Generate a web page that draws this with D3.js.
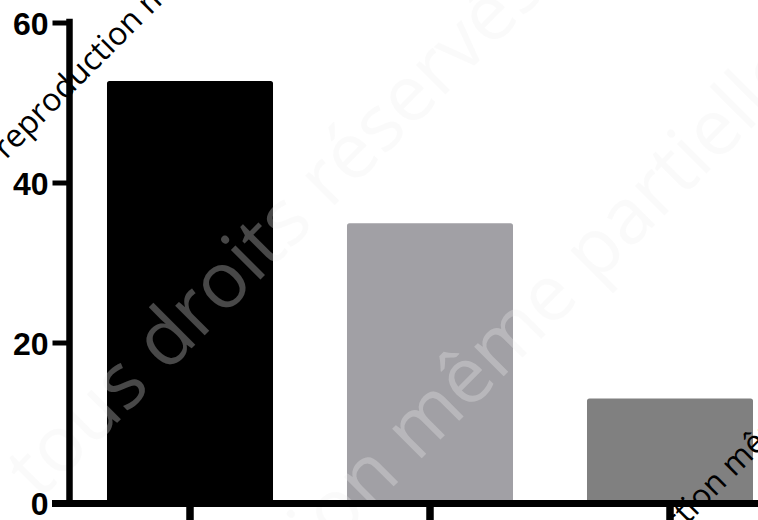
<!DOCTYPE html>
<html>
<head>
<meta charset="utf-8">
<script src="https://cdn.jsdelivr.net/npm/d3@7"></script>
<style>
  html, body { margin: 0; padding: 0; background: #ffffff; }
  svg { display: block; }
</style>
</head>
<body>
<svg id="chart" width="758" height="520"></svg>
<script>
// ---- data ----
const categories = ["Groupe 1", "Groupe 2", "Groupe 3"];
const values = [52.7, 34.9, 13.0];
const barColors = ["#000000", "#a1a0a5", "#808080"];
const yTickValues = [0, 20, 40, 60];
const watermarkLight = ["tous droits réservés", "reproduction même partielle interdite"];
const watermarkDark = ["reproduction même partielle interdite", "reproduction même partielle interdite"];

const svg = d3.select("#chart");

const y = d3.scaleLinear().domain([0, 60]).range([502.5, 22.5]);
const x = d3.scaleBand().domain(categories).range([70, 790])
  .paddingInner(0.3083).paddingOuter(0.3083 / 2);

// bars
svg.append("g").selectAll("rect").data(values).join("rect")
  .attr("x", (d, i) => x(categories[i]))
  .attr("width", x.bandwidth())
  .attr("y", d => y(d))
  .attr("height", d => y(0) - y(d))
  .attr("rx", 2.5)
  .attr("fill", (d, i) => barColors[i]);

// light watermark
const wl = svg.append("g").attr("font-family", "'Open Sans', sans-serif")
  .attr("font-size", 78).attr("fill", "#ededed").attr("fill-opacity", 0.3);
const wlPos = [[39, 501], [65, 815]];
wl.selectAll("text").data(watermarkLight).join("text")
  .attr("transform", (d, i) => `translate(${wlPos[i][0]},${wlPos[i][1]}) rotate(-45)`)
  .text(d => d);

// y axis
const yAxis = d3.axisLeft(y).tickValues(yTickValues).tickSize(17).tickSizeOuter(0).tickPadding(4);
const gy = svg.append("g").attr("transform", "translate(69.5,0)").call(yAxis);
gy.select(".domain").attr("stroke", "#000").attr("stroke-width", 6.5).attr("stroke-linecap", "square")
  .attr("d", `M0,${y(0)}V${y(60) - 0.5}`);
gy.selectAll(".tick line").attr("stroke", "#000").attr("stroke-width", 5);
gy.selectAll(".tick text")
  .attr("font-family", "'Liberation Sans', Arial, sans-serif")
  .attr("font-weight", "bold").attr("font-size", 32).attr("fill", "#000")
  .attr("dy", "0.36em");

// x axis
const xAxis = d3.axisBottom(x).tickSize(22).tickSizeOuter(0).tickFormat("");
const gx = svg.append("g").attr("transform", "translate(0,503.5)").call(xAxis);
gx.select(".domain").attr("stroke", "#000").attr("stroke-width", 7)
  .attr("d", "M52,0H790");
gx.selectAll(".tick line").attr("stroke", "#000").attr("stroke-width", 7.5);

// dark watermark
const wd = svg.append("g").attr("font-family", "'Open Sans', sans-serif")
  .attr("font-size", 32).attr("fill", "#000");
const wdPos = [[6, 160], [590, 622]];
wd.selectAll("text").data(watermarkDark).join("text")
  .attr("transform", (d, i) => `translate(${wdPos[i][0]},${wdPos[i][1]}) rotate(-45)`)
  .text(d => d);
</script>
</body>
</html>
